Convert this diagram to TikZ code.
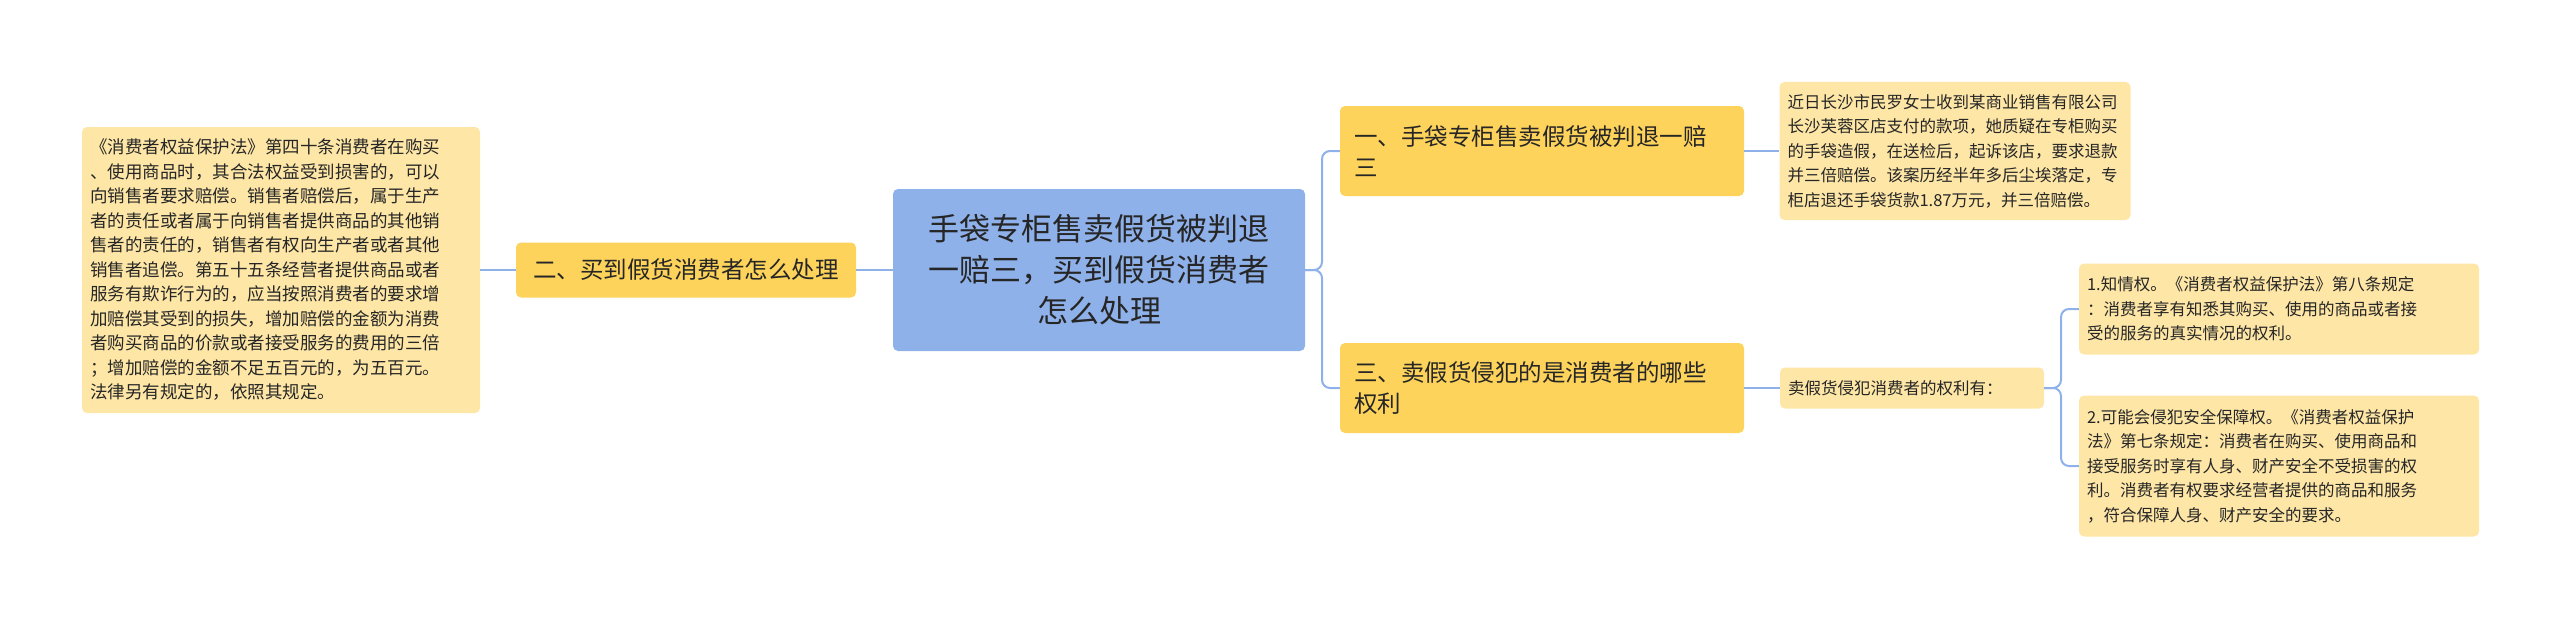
\documentclass[tikz,border=0pt]{standalone}
\usepackage{fontspec}
\setmainfont{Noto Sans CJK SC}
\begin{document}
\begin{tikzpicture}[x=1pt,y=-1pt,
  box/.style={rounded corners=5pt,inner ysep=0pt,inner xsep=8pt,align=left,text=black!85},
  leaf/.style={box,fill=leafc,font=\fontsize{16.5}{24.5}\selectfont},
  branch/.style={box,fill=branchc,inner xsep=14pt,font=\fontsize{23.5}{31}\selectfont},
  link/.style={draw=linec,line width=2pt,rounded corners=8pt}]
\definecolor{leafc}{HTML}{FDE6A6}
\definecolor{branchc}{HTML}{FDD35B}
\definecolor{centerc}{HTML}{8FB1EA}
\definecolor{linec}{HTML}{8FB1EA}
\useasboundingbox (0,0) rectangle (2560,618);
\node[box,fill=centerc,minimum width=412pt,minimum height=162pt,align=center,font=\fontsize{31}{41}\selectfont] (c) at (1099,270) {手袋专柜售卖假货被判退\\一赔三，买到假货消费者\\怎么处理};
\node[branch,minimum width=340pt,minimum height=55pt] (b2) at (686,270) {二、买到假货消费者怎么处理};
\node[leaf,text width=382pt,minimum height=286pt,font=\fontsize{17.5}{24.5}\selectfont] (l2) at (281,270) {《消费者权益保护法》第四十条消费者在购买\\、使用商品时，其合法权益受到损害的，可以\\向销售者要求赔偿。销售者赔偿后，属于生产\\者的责任或者属于向销售者提供商品的其他销\\售者的责任的，销售者有权向生产者或者其他\\销售者追偿。第五十五条经营者提供商品或者\\服务有欺诈行为的，应当按照消费者的要求增\\加赔偿其受到的损失，增加赔偿的金额为消费\\者购买商品的价款或者接受服务的费用的三倍\\；增加赔偿的金额不足五百元的，为五百元。\\法律另有规定的，依照其规定。};
\node[branch,text width=376pt,minimum height=90pt] (b1) at (1542,151) {一、手袋专柜售卖假货被判退一赔\\三};
\node[branch,text width=376pt,minimum height=90pt] (b3) at (1542,388) {三、卖假货侵犯的是消费者的哪些\\权利};
\node[leaf,text width=335pt,minimum height=138pt] (l1) at (1955,151) {近日长沙市民罗女士收到某商业销售有限公司\\长沙芙蓉区店支付的款项，她质疑在专柜购买\\的手袋造假，在送检后，起诉该店，要求退款\\并三倍赔偿。该案历经半年多后尘埃落定，专\\柜店退还手袋货款1.87万元，并三倍赔偿。};
\node[leaf,text width=248pt,minimum height=41pt] (m3) at (1912,388) {卖假货侵犯消费者的权利有：};
\node[leaf,text width=384pt,minimum height=91pt] (a) at (2279,309) {1.知情权。《消费者权益保护法》第八条规定\\：消费者享有知悉其购买、使用的商品或者接\\受的服务的真实情况的权利。};
\node[leaf,text width=384pt,minimum height=141pt] (b) at (2279,466) {2.可能会侵犯安全保障权。《消费者权益保护\\法》第七条规定：消费者在购买、使用商品和\\接受服务时享有人身、财产安全不受损害的权\\利。消费者有权要求经营者提供的商品和服务\\，符合保障人身、财产安全的要求。};
\draw[link] (c.west) -- (b2.east);
\draw[link] (b2.west) -- (l2.east);
\draw[link] (c.east) -- (1322,270) |- (b1.west);
\draw[link] (c.east) -- (1322,270) |- (b3.west);
\draw[link] (b1.east) -- (l1.west);
\draw[link] (b3.east) -- (m3.west);
\draw[link] (m3.east) -- (2061,388) |- (a.west);
\draw[link] (m3.east) -- (2061,388) |- (b.west);
\end{tikzpicture}
\end{document}
